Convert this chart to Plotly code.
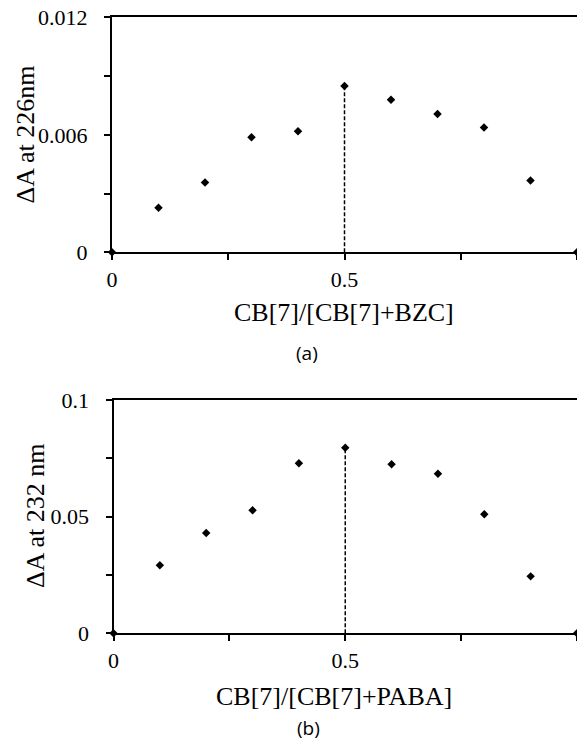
import plotly.graph_objects as go

# ---------------- data ----------------
mole_fraction = [0, 0.1, 0.2, 0.3, 0.4, 0.5, 0.6, 0.7, 0.8, 0.9, 1.0]
dA_bzc = [0, 0.00227, 0.00356, 0.00587, 0.00618, 0.00849, 0.00779, 0.00706, 0.00637, 0.00367, 0]
dA_paba = [0, 0.0292, 0.0430, 0.0527, 0.0729, 0.0795, 0.0725, 0.0684, 0.0510, 0.0244, 0]

x_tickvals = [0, 0.25, 0.5, 0.75, 1]
x_ticktext = ["0", "", "0.5", "", "1"]
y1_tickvals = [0, 0.003, 0.006, 0.009, 0.012]
y1_ticktext = ["0", "", "0.006", "", "0.012"]
y2_tickvals = [0, 0.025, 0.05, 0.075, 0.1]
y2_ticktext = ["0", "", "0.05", "", "0.1"]

ytitle_a = "ΔA at 226nm"
ytitle_b = "ΔA at 232 nm"
xtitle_a = "CB[7]/[CB[7]+BZC]"
xtitle_b = "CB[7]/[CB[7]+PABA]"
caption_a = "(a)"
caption_b = "(b)"

W, H = 577, 743
SERIF = "Liberation Serif, Times New Roman, serif"
SANS = "Open Sans, Noto Sans, sans-serif"


def px(x):
    return x / W


def py(y):
    return (H - y) / H


fig = go.Figure()

for series, xa, ya in [(dA_bzc, "x", "y"), (dA_paba, "x2", "y2")]:
    peak = max(series)
    peak_x = mole_fraction[series.index(peak)]
    fig.add_trace(go.Scatter(
        x=[peak_x, peak_x], y=[0, peak], mode="lines",
        line=dict(color="black", width=1.5, dash="4px,2px"),
        xaxis=xa, yaxis=ya, showlegend=False, hoverinfo="skip"))
    fig.add_trace(go.Scatter(
        x=mole_fraction, y=series, mode="markers",
        marker=dict(symbol="diamond", size=6.5, color="black"),
        xaxis=xa, yaxis=ya, showlegend=False, cliponaxis=False))

common_x = dict(
    range=[0, 1], tickmode="array", tickvals=x_tickvals, ticktext=x_ticktext,
    ticks="outside", ticklen=6, tickwidth=2, tickcolor="black",
    showline=True, linecolor="black", linewidth=2, mirror=True,
    showgrid=False, zeroline=False, automargin=False,
    tickfont=dict(family=SERIF, size=22, color="black"),
)
common_y = dict(
    tickmode="array", ticks="outside", ticklen=6, tickwidth=2, tickcolor="black",
    showline=True, linecolor="black", linewidth=2, mirror=False,
    showgrid=False, zeroline=False, automargin=False,
    tickfont=dict(family=SERIF, size=22, color="black"),
    ticklabelstandoff=12,
)

fig.update_layout(
    template="none",
    width=W, height=H,
    margin=dict(l=0, r=0, t=0, b=0, pad=0),
    paper_bgcolor="white", plot_bgcolor="white",
    xaxis=dict(domain=[px(112), 1], anchor="y", **common_x),
    yaxis=dict(domain=[py(252.3), py(17.3)], anchor="x", range=[0, 0.012],
               tickvals=y1_tickvals, ticktext=y1_ticktext, **common_y),
    xaxis2=dict(domain=[px(113.5), 1], anchor="y2", **common_x),
    yaxis2=dict(domain=[py(633.3), py(400)], anchor="x2", range=[0, 0.1],
                tickvals=y2_tickvals, ticktext=y2_ticktext, **common_y),
)

annots = [
    (ytitle_a, 25, 134.5, -90, SERIF, 26),
    (ytitle_b, 35, 516, -90, SERIF, 26),
    (xtitle_a, 344, 312, 0, SERIF, 26),
    (xtitle_b, 334, 696, 0, SERIF, 26),
    (caption_a, 307, 353, 0, SANS, 19),
    (caption_b, 308, 728, 0, SANS, 19),
]
for text, x, y, ang, fam, size in annots:
    fig.add_annotation(
        text=text, x=px(x), y=py(y), xref="paper", yref="paper",
        xanchor="center", yanchor="middle", textangle=ang, showarrow=False,
        font=dict(family=fam, size=size, color="black"))

fig.write_html("out.html")
